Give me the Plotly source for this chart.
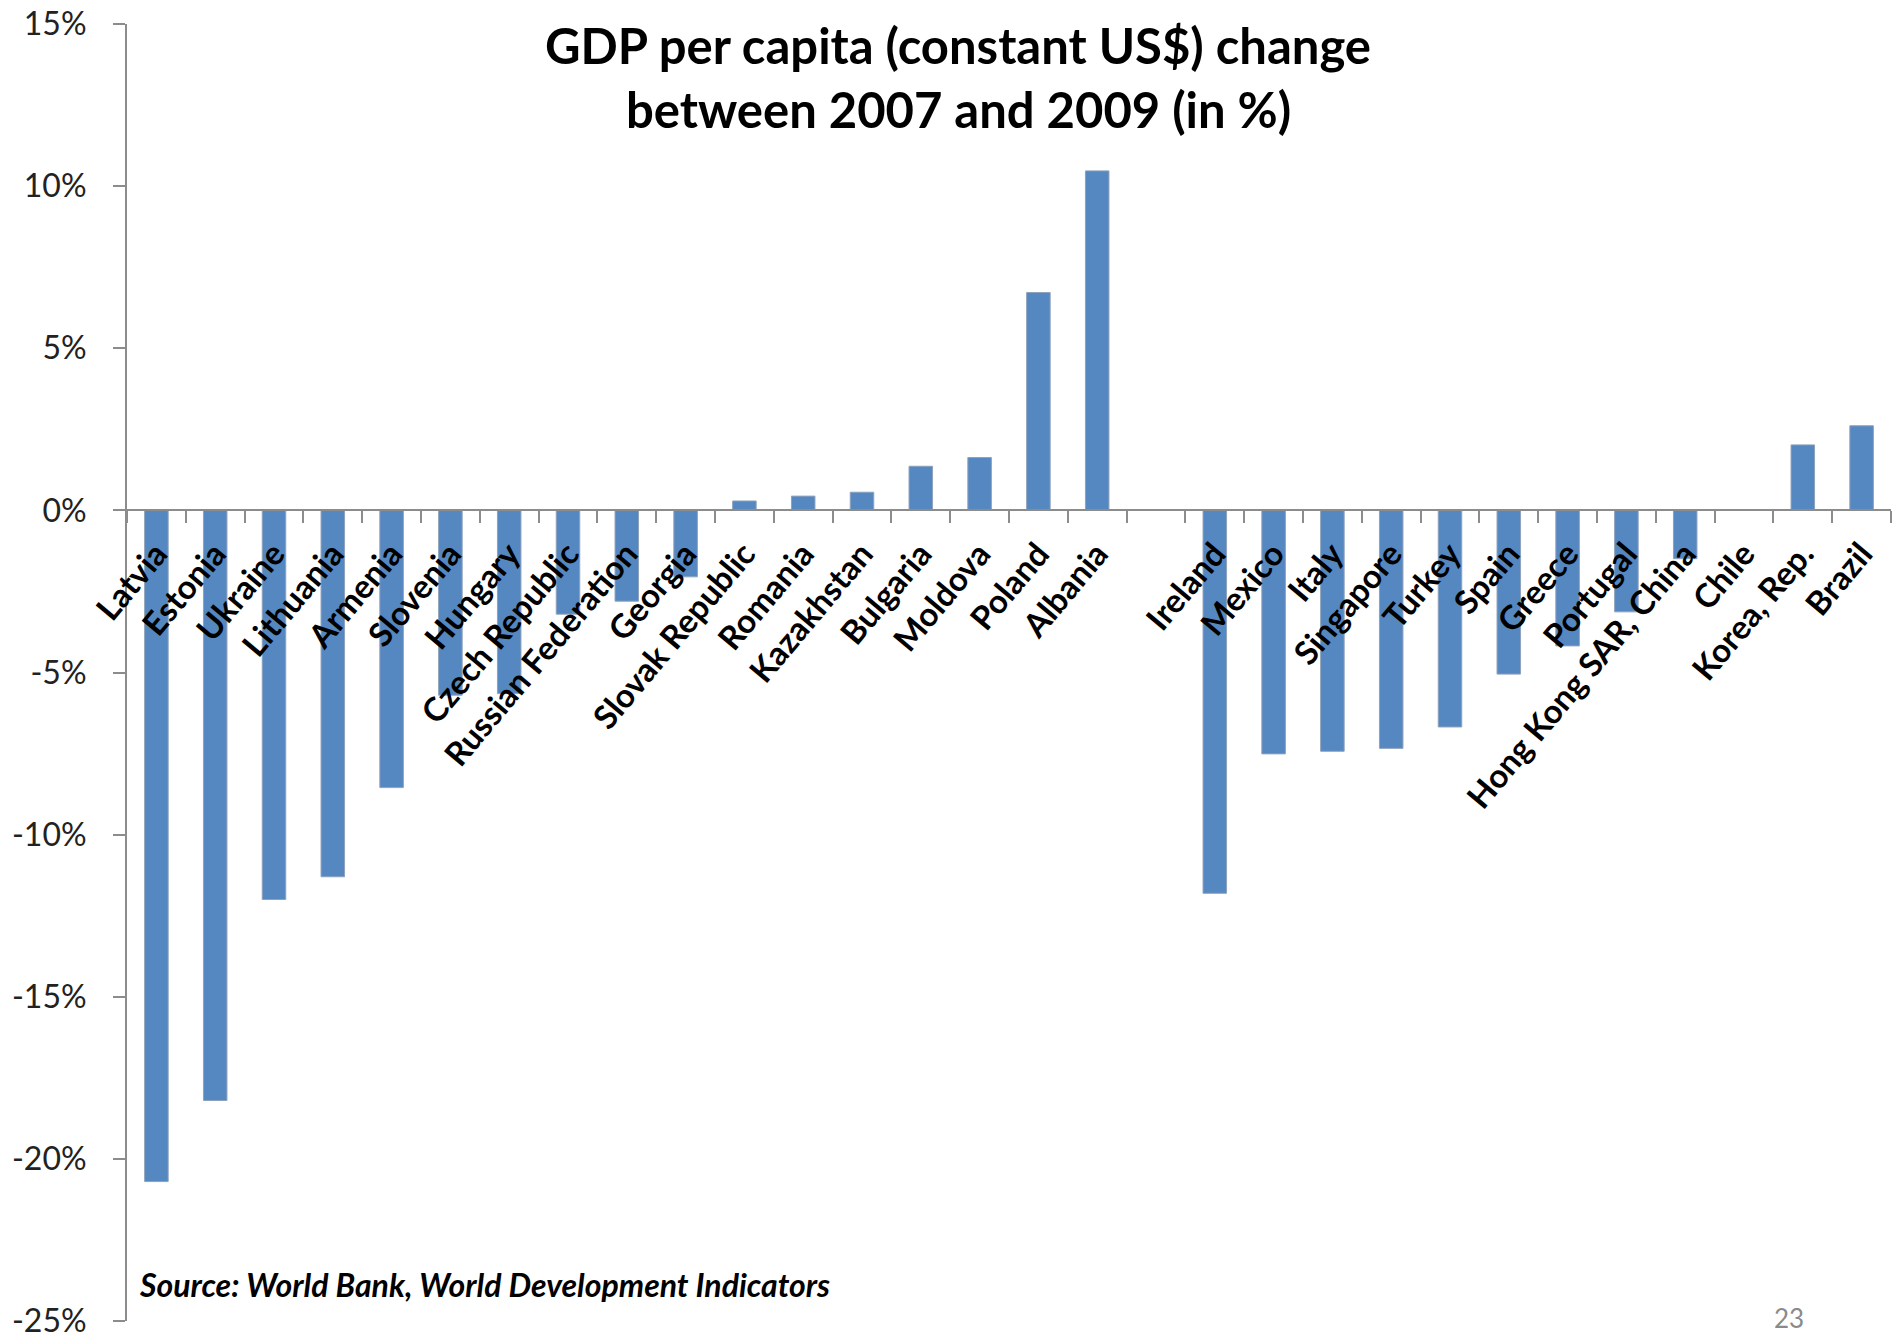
import plotly.graph_objects as go

# Countries, in plotted order (a blank slot separates the two groups)
countries = [
    "Latvia", "Estonia", "Ukraine", "Lithuania", "Armenia", "Slovenia",
    "Hungary", "Czech Republic", "Russian Federation", "Georgia",
    "Slovak Republic", "Romania", "Kazakhstan", "Bulgaria", "Moldova",
    "Poland", "Albania",
    " ",
    "Ireland", "Mexico", "Italy", "Singapore", "Turkey", "Spain", "Greece",
    "Portugal", "Hong Kong SAR, China", "Chile", "Korea, Rep.", "Brazil",
]

# GDP per capita change 2007-2009, percent
gdp_change = [
    -20.7, -18.2, -12.0, -11.3, -8.55, -5.7,
    -5.65, -3.2, -2.8, -2.05,
    0.29, 0.44, 0.56, 1.36, 1.63,
    6.72, 10.47,
    None,
    -11.81, -7.51, -7.43, -7.34, -6.68, -5.05, -4.18,
    -3.13, -1.49, 0.0, 2.02, 2.61,
]

y_tick_values = [-25, -20, -15, -10, -5, 0, 5, 10, 15]
y_tick_labels = ["-25%", "-20%", "-15%", "-10%", "-5%", "0%", "5%", "10%", "15%"]

title_lines = ["GDP per capita (constant US$) change", "between 2007 and 2009 (in %)"]
source_note = "Source: World Bank, World Development Indicators"
page_number = "23"

W, H = 1895, 1338
ML, MR, MT, MB = 127, 4, 24, 17
Y_MIN, Y_MAX = -25.0, 15.0

FONT = "Lato, 'Open Sans', sans-serif"
AXIS_GREY = "#8c8c8c"

fig = go.Figure(
    go.Bar(
        x=countries,
        y=gdp_change,
        marker=dict(color="#5587c1", line=dict(color="#8ea2bb", width=1)),
        hoverinfo="x+y",
    )
)

# paper-y of the zero line, where the category axis sits
zero_pos = (0 - Y_MIN) / (Y_MAX - Y_MIN)

fig.update_layout(
    width=W,
    height=H,
    margin=dict(l=ML, r=MR, t=MT, b=MB, autoexpand=False),
    plot_bgcolor="white",
    paper_bgcolor="white",
    bargap=0.6,
    showlegend=False,
    font=dict(family=FONT, color="#111"),
    xaxis=dict(
        type="category",
        anchor="free",
        position=zero_pos,
        showline=True,
        linecolor=AXIS_GREY,
        linewidth=2,
        ticks="outside",
        tickson="boundaries",
        ticklen=12,
        tickwidth=2,
        tickcolor=AXIS_GREY,
        tickangle=-50,
        ticklabelstandoff=10,
        ticklabeloverflow="allow",
        tickfont=dict(family=FONT, size=33, color="#000", weight="bold"),
        showgrid=False,
        zeroline=False,
        automargin=False,
        layer="above traces",
    ),
    yaxis=dict(
        range=[Y_MIN, Y_MAX],
        tickvals=y_tick_values,
        ticktext=y_tick_labels,
        showline=True,
        linecolor=AXIS_GREY,
        linewidth=2,
        ticks="outside",
        ticklen=12,
        tickwidth=2,
        tickcolor=AXIS_GREY,
        ticklabelstandoff=20,
        ticklabeloverflow="allow",
        tickfont=dict(family=FONT, size=32, color="#222"),
        showgrid=False,
        zeroline=False,
        automargin=False,
    ),
)

plot_h = H - MT - MB
plot_w = W - ML - MR


def px_to_paper(px_x, px_y):
    return (px_x - ML) / plot_w, 1 - (px_y - MT) / plot_h


for line, cy in zip(title_lines, [45, 109]):
    ax, ay = px_to_paper(958, cy)
    fig.add_annotation(
        text=line, xref="paper", yref="paper", x=ax, y=ay,
        xanchor="center", yanchor="middle", showarrow=False,
        font=dict(family=FONT, size=49, color="#000", weight="bold"),
    )

sx, sy = px_to_paper(137, 1284)
fig.add_annotation(
    text=f"<i>{source_note}</i>", xref="paper", yref="paper", x=sx, y=sy,
    xanchor="left", yanchor="middle", showarrow=False,
    font=dict(family=FONT, size=32, color="#000", weight="bold"),
)

px_, py_ = px_to_paper(1789, 1318)
fig.add_annotation(
    text=page_number, xref="paper", yref="paper", x=px_, y=py_,
    xanchor="center", yanchor="middle", showarrow=False,
    font=dict(family=FONT, size=26, color="#8a8a8a"),
)

fig.write_html("out.html", config={"displayModeBar": False})
